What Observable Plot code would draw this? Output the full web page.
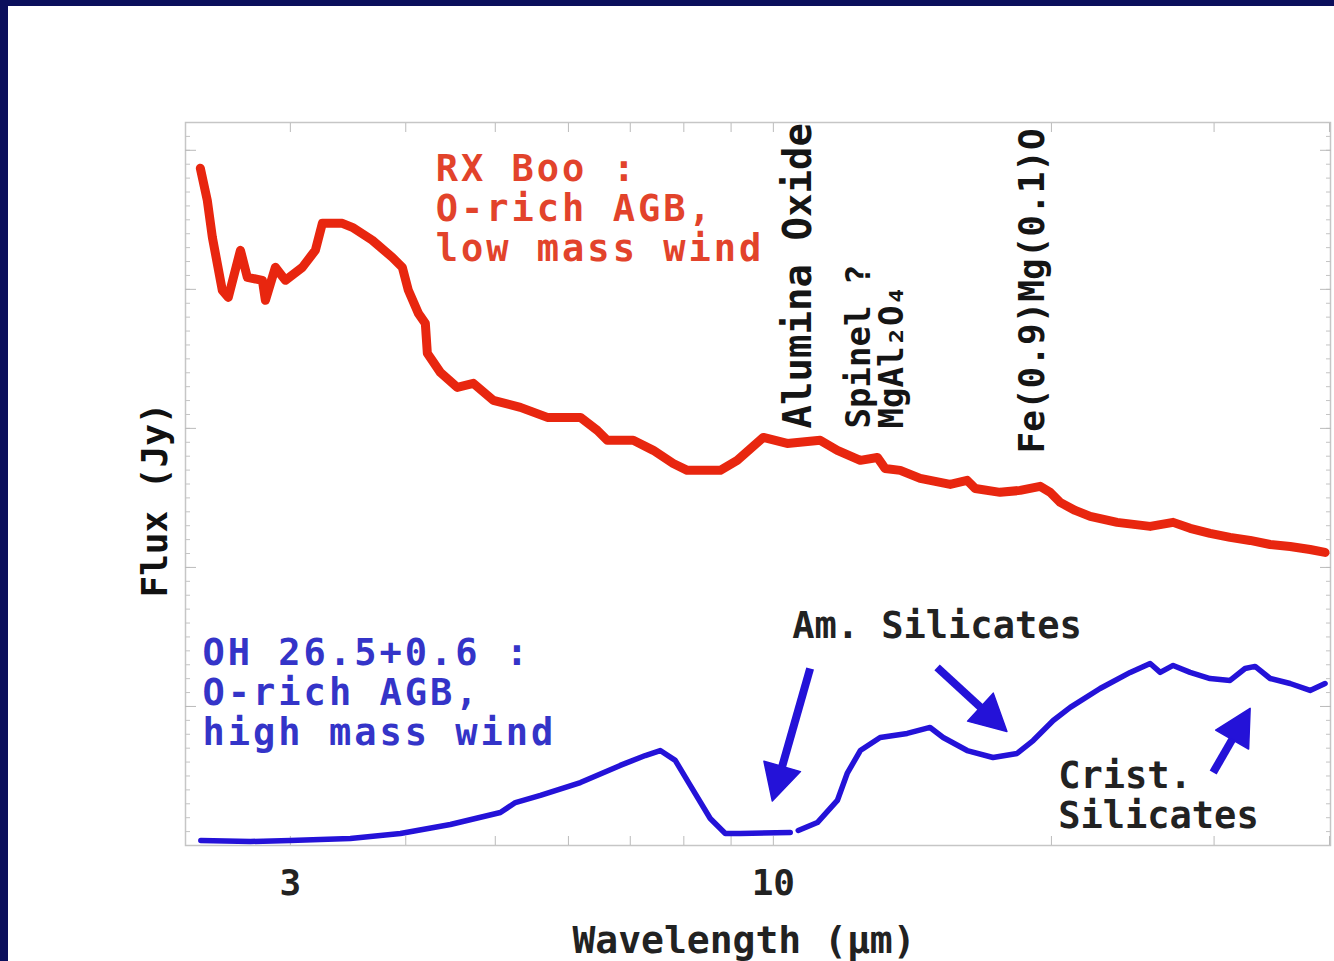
<!DOCTYPE html>
<html><head><meta charset="utf-8">
<script src="https://cdn.jsdelivr.net/npm/d3@7"></script>
<script src="https://cdn.jsdelivr.net/npm/@observablehq/plot@0.6"></script>
<style>
html,body{margin:0;padding:0;background:#0b0f5c;width:1334px;height:961px;overflow:hidden}
#chart{position:absolute;left:8px;top:6px;width:1326px;height:955px;background:#fff}
</style></head><body><div id="chart"></div>
<script>
// RX Boo (O-rich AGB, low mass wind) — wavelength (µm) and flux (arbitrary units)
const redWavelength = [2.397,2.439,2.470,2.532,2.570,2.649,2.695,2.798,2.819,2.890,2.963,3.091,3.193,3.249,3.415,3.501,3.680,3.868,3.966,4.026,4.128,4.200,4.221,4.360,4.548,4.734,4.976,5.323,5.693,6.182,6.448,6.611,7.052,7.414,7.791,8.069,8.761,9.139,9.753,10.35,11.24,11.73,12.42,12.96,13.21,13.72,14.42,15.54,16.21,16.54,17.60,18.50,19.45,19.94,20.44,21.22,22.03,23.56,25.58,27.09,28.26,29.70,31.22,32.82,34.50,36.26,38.11,39.56];
const redFlux = [4.871,4.640,4.374,3.993,3.942,4.281,4.086,4.065,3.921,4.158,4.065,4.158,4.281,4.475,4.475,4.446,4.353,4.230,4.158,3.993,3.827,3.755,3.540,3.403,3.295,3.324,3.201,3.151,3.079,3.079,2.986,2.914,2.914,2.842,2.748,2.698,2.698,2.770,2.935,2.892,2.914,2.842,2.770,2.791,2.712,2.698,2.640,2.597,2.626,2.568,2.540,2.554,2.583,2.540,2.468,2.410,2.367,2.324,2.295,2.324,2.281,2.245,2.216,2.194,2.165,2.151,2.129,2.108];

// OH 26.5+0.6 (O-rich AGB, high mass wind); null = gap in the spectrum
const blueWavelength = [2.40,2.716,3.0,3.484,3.947,4.470,5.064,5.257,5.595,6.182,6.827,7.267,7.543,7.831,8.129,8.544,8.871,9.207,10.43,10.54,10.64,11.16,11.73,12.02,12.42,13.05,13.96,14.78,15.27,16.21,17.29,18.36,19.11,20.09,20.96,22.58,24.34,25.58,26.23,27.09,28.26,29.70,31.22,32.41,33.23,34.50,36.26,38.11,39.56];
const blueFlux = [0.036,0.029,0.036,0.050,0.086,0.151,0.237,0.309,0.360,0.453,0.576,0.647,0.683,0.612,0.432,0.194,0.086,0.086,0.094,null,0.108,0.165,0.324,0.518,0.683,0.777,0.806,0.849,0.777,0.683,0.633,0.662,0.755,0.899,0.993,1.129,1.245,1.309,1.245,1.295,1.245,1.201,1.187,1.273,1.288,1.201,1.165,1.115,1.165];

// axis ticks
const xTickLabels = [3, 10];
const xMinorTicks = [3,4,5,6,7,8,9,10,20,30,40];

// series labels
const redLabel = ["RX Boo :\nO-rich AGB,\nlow mass wind"];
const redLabelW = [4.31], redLabelF = [4.583];
const blueLabel = ["OH 26.5+0.6 :\nO-rich AGB,\nhigh mass wind"];
const blueLabelW = [2.41], blueLabelF = [1.101];

// feature labels (vertical)
const featureNames = ["Alumina Oxide", "Spinel ?", "MgAl₂O₄", "Fe(0.9)Mg(0.1)O"];
const featureWavelength = [10.65, 12.39, 13.45, 19.1];
const featureBase = [3.0, 3.0, 3.0, 2.82];

// silicate annotations
const silNames = ["Am. Silicates", "Crist.\nSilicates"];
const silWavelength = [10.48, 20.34];
const silFlux = [1.583, 0.360];

// arrows (tail -> tip), wavelength / flux
const arrowW1 = [10.96, 15.04, 29.93];
const arrowF1 = [1.273, 1.281, 0.525];
const arrowW2 = [9.974, 17.9, 32.82];
const arrowF2 = [0.320, 0.820, 0.986];

const RED = "#e8260f", BLUE = "#2412d8";
const MONO = "DejaVu Sans Mono";

const dims = {
  width: 1326, height: 955,
  marginLeft: 177, marginTop: 116, marginRight: 4, marginBottom: 116,
  x: {type: "log", domain: [2.31, 40.1]},
  y: {domain: [0, 5.2]}
};

// probe the scales to build filled arrow heads in screen space
const probe = Plot.plot({...dims, marks: [Plot.frame()]});
const sx = probe.scale("x"), sy = probe.scale("y");
const headLen = 36, headHalf = 19;
const shafts = [], heads = [];
arrowW1.forEach((w, i) => {
  const tx = sx.apply(w), ty = sy.apply(arrowF1[i]);
  const px = sx.apply(arrowW2[i]), py = sy.apply(arrowF2[i]);
  const L = Math.hypot(px - tx, py - ty);
  const ux = (px - tx) / L, uy = (py - ty) / L;
  const bx = px - headLen * ux, by = py - headLen * uy;
  const nx = -uy, ny = ux;
  shafts.push({x1: w, y1: arrowF1[i], x2: sx.invert(bx + 4 * ux), y2: sy.invert(by + 4 * uy)});
  [[px, py], [bx + headHalf * nx, by + headHalf * ny], [bx - headHalf * nx, by - headHalf * ny]]
    .forEach(([qx, qy]) => heads.push({k: i, x: sx.invert(qx), y: sy.invert(qy)}));
});

const yMinor = d3.range(0, 5.21, 0.1).map(v => +v.toFixed(2));
const yMajor = [1,2,3,4,5];

const chart = Plot.plot({
  ...dims,
  style: {fontFamily: MONO, background: "#fff"},
  marks: [
    Plot.frame({stroke: "#c6c6c6", strokeWidth: 1.5}),
    Plot.axisX({anchor: "bottom", ticks: xMinorTicks, tickSize: -9, tickFormat: () => "", stroke: "#bbb", label: null}),
    Plot.axisX({anchor: "top", ticks: xMinorTicks, tickSize: -9, tickFormat: () => "", stroke: "#bbb", label: null}),
    Plot.axisY({anchor: "left", ticks: yMinor, tickSize: -5, tickFormat: () => "", stroke: "#c4c4c4", label: null}),
    Plot.axisY({anchor: "left", ticks: yMajor, tickSize: -11, tickFormat: () => "", stroke: "#bbb", label: null}),
    Plot.axisY({anchor: "right", ticks: yMinor, tickSize: -5, tickFormat: () => "", stroke: "#c4c4c4", label: null}),
    Plot.axisY({anchor: "right", ticks: yMajor, tickSize: -11, tickFormat: () => "", stroke: "#bbb", label: null}),
    Plot.axisX({anchor: "bottom", ticks: xTickLabels, tickSize: 0, tickPadding: 24, tickFormat: d => String(d),
      fontSize: 36, fontWeight: "bold", fill: "#222", label: null}),
    Plot.text(["Wavelength (µm)"], {frameAnchor: "bottom", dx: -14, dy: 107, fontSize: 38, fill: "#222", fontWeight: 600}),
    Plot.text(["Flux (Jy)"], {frameAnchor: "left", textAnchor: "middle", rotate: -90, dx: -30, dy: 16, fontSize: 36, fontWeight: "bold", fill: "#111"}),
    Plot.line(redFlux, {x: redWavelength, y: redFlux, stroke: RED, strokeWidth: 9, curve: "linear"}),
    Plot.line(blueFlux, {x: blueWavelength, y: blueFlux, stroke: BLUE, strokeWidth: 5.5, curve: "linear"}),
    Plot.link(shafts, {x1: "x1", y1: "y1", x2: "x2", y2: "y2", stroke: BLUE, strokeWidth: 8, strokeLinecap: "butt"}),
    Plot.line(heads, {x: "x", y: "y", z: "k", fill: BLUE, stroke: BLUE, strokeWidth: 1.5, curve: "linear-closed"}),
    Plot.text(redLabel, {x: redLabelW, y: redLabelF, textAnchor: "start", lineAnchor: "middle", lineHeight: 1.08, fontSize: 37, fontWeight: "bold", fill: "#e2432b"}),
    Plot.text(blueLabel, {x: blueLabelW, y: blueLabelF, textAnchor: "start", lineAnchor: "middle", lineHeight: 1.08, fontSize: 37, fontWeight: "bold", fill: "#3434c8"}),
    Plot.text(featureNames, {x: featureWavelength, y: featureBase, rotate: -90, textAnchor: "start", lineAnchor: "middle",
      fontSize: (d, i) => [39, 34, 34, 36][i], fontWeight: "bold", fill: "#151515"}),
    Plot.text(silNames, {x: silWavelength, y: silFlux, textAnchor: "start", lineAnchor: "middle", lineHeight: 1.08, fontSize: 37, fontWeight: "bold", fill: "#222"})
  ]
});
d3.select(chart).selectAll("text")
  .filter(function() { return /mass wind/.test(this.textContent); })
  .style("letter-spacing", "3px");
document.getElementById("chart").appendChild(chart);
</script></body></html>
